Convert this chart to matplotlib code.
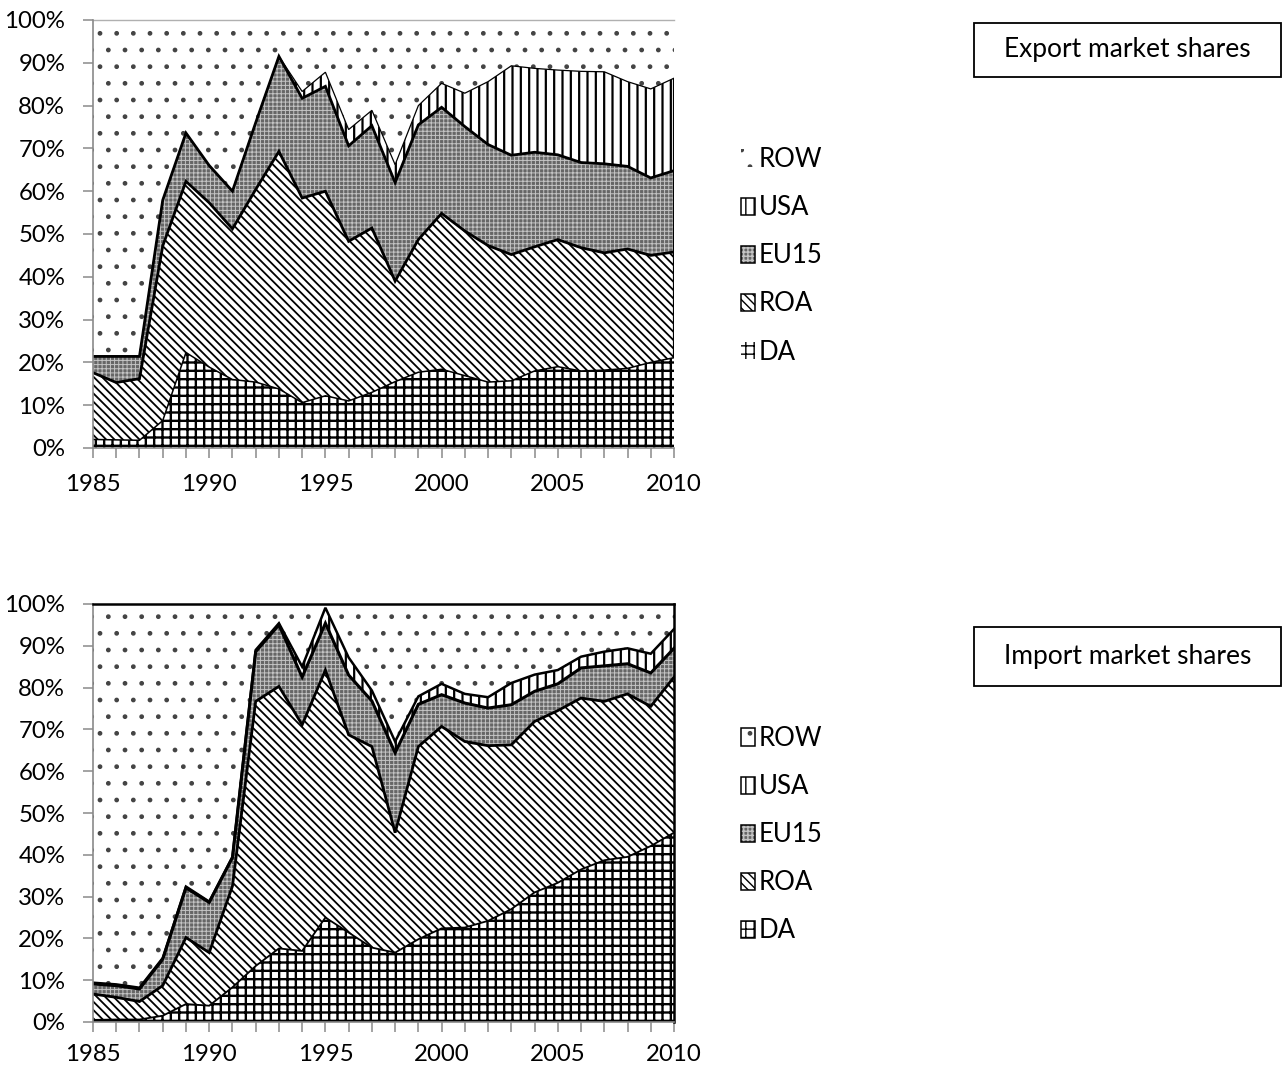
import numpy as np
import matplotlib
matplotlib.use("Agg")
import matplotlib as mpl
import matplotlib.pyplot as plt
from matplotlib.patches import Patch, Rectangle

plt.rcParams['font.family'] = ['Lato', 'DejaVu Sans']

# ---------------- data (shares in %) ----------------
years = list(range(1985, 2011))
series = ['DA', 'ROA', 'EU15', 'USA', 'ROW']

exp_DA = [2.0, 1.9, 1.8, 6.4, 22.3, 18.9, 16.0, 15.4, 13.8, 10.6, 12.2, 11.0, 13.0,
          15.5, 17.7, 18.4, 16.9, 15.4, 15.7, 18.0, 19.0, 18.0, 18.2, 18.6, 20.0, 21.1]
exp_ROA = [15.6, 13.4, 14.4, 40.8, 40.0, 38.4, 35.2, 45.0, 55.5, 47.8, 47.8, 37.3, 38.4,
           23.5, 31.0, 36.4, 33.8, 31.9, 29.5, 29.0, 29.7, 28.8, 27.4, 27.9, 25.0, 24.7]
exp_EU15 = [3.8, 6.1, 5.2, 10.7, 11.3, 8.7, 8.8, 15.6, 22.2, 23.3, 24.5, 22.3, 23.9,
            23.0, 26.8, 24.8, 24.4, 23.6, 23.2, 22.1, 19.8, 19.9, 20.8, 19.3, 18.1, 19.0]
exp_USA = [0.0, 0.0, 0.0, 0.0, 0.0, 0.0, 0.0, 0.0, 0.0, 1.6, 3.3, 3.8, 3.6,
           4.2, 4.5, 5.6, 7.8, 14.7, 20.9, 19.6, 19.8, 21.3, 21.5, 19.8, 20.8, 21.6]
exp_ROW = [78.6, 78.6, 78.6, 42.1, 26.4, 34.0, 40.0, 24.0, 8.5, 16.7, 12.2, 25.6, 21.1,
           33.8, 20.0, 14.8, 17.1, 14.4, 10.7, 11.3, 11.7, 12.0, 12.1, 14.4, 16.1, 13.6]

imp_DA = [0.5, 0.6, 0.6, 1.5, 4.3, 3.9, 8.3, 13.4, 17.6, 17.0, 25.0, 21.4, 17.8,
          16.6, 19.8, 22.4, 22.6, 24.2, 27.0, 31.0, 33.3, 36.5, 38.7, 39.5, 42.1, 45.3]
imp_ROA = [6.2, 5.3, 4.3, 7.2, 15.9, 12.7, 24.2, 63.3, 62.7, 54.1, 59.2, 47.3, 48.1,
           28.7, 46.1, 48.3, 44.5, 41.9, 39.3, 40.9, 41.2, 41.0, 38.0, 39.0, 33.4, 37.2]
imp_EU15 = [2.4, 2.8, 3.0, 6.3, 11.9, 12.0, 6.8, 11.9, 14.7, 11.4, 11.2, 14.3, 10.9,
            19.1, 10.1, 7.6, 9.2, 9.0, 9.6, 7.2, 6.4, 7.2, 8.5, 7.2, 8.0, 6.9]
imp_USA = [0.3, 0.3, 0.3, 0.3, 0.3, 0.2, 0.2, 0.4, 0.4, 2.5, 3.7, 4.2, 2.5,
           2.7, 1.9, 2.6, 2.2, 2.6, 5.2, 4.0, 3.3, 2.7, 3.4, 3.7, 4.6, 4.6]
imp_ROW = [90.6, 91.0, 91.8, 84.7, 67.6, 71.2, 60.5, 11.0, 4.6, 15.0, 0.9, 12.8, 20.7,
           32.9, 22.1, 19.1, 21.5, 22.3, 18.9, 16.9, 15.8, 12.6, 11.4, 10.6, 11.9, 6.0]

titles = ['Export market shares', 'Import market shares']
x_ticks = [1985, 1990, 1995, 2000, 2005, 2010]
y_ticks = [0, 10, 20, 30, 40, 50, 60, 70, 80, 90, 100]

# ---------------- styles ----------------
STY = {
    'DA':   dict(face='white',   hc='black',   hatch='++',       hlw=1.7),
    'ROA':  dict(face='white',   hc='black',   hatch='\\\\\\\\', hlw=1.3),
    'EU15': dict(face='#666666', hc='#c4c4c4', hatch='++++',     hlw=0.7),
    'USA':  dict(face='white',   hc='black',   hatch='||',       hlw=1.6),
    'ROW':  dict(face='white',   hc='#444444', hatch='.',        hlw=1.0),
}

W, H = 1285, 1073
fig = plt.figure(figsize=(W / 100, H / 100), dpi=100)


def px_axes(x0, y0, x1, y1):
    return fig.add_axes([x0 / W, 1 - y1 / H, (x1 - x0) / W, (y1 - y0) / H])


def draw(ax, data, lws, boxed, xpad):
    x = np.array(years)
    cum = np.cumsum(np.array(data, dtype=float), axis=0) / 100.0
    lower = np.zeros(len(x))
    for i, name in enumerate(series):
        s = STY[name]
        upper = cum[i]
        with mpl.rc_context({'hatch.linewidth': s['hlw']}):
            ax.fill_between(x, lower, upper, facecolor=s['face'], edgecolor=s['hc'],
                            hatch=s['hatch'], linewidth=0, zorder=1)
        lower = upper
    for i in range(4):
        if lws[i] > 0:
            ax.plot(x, cum[i], color='black', lw=lws[i], zorder=3,
                    solid_joinstyle='miter')
    if not boxed:
        ax.vlines(x[-1], cum[0][-1], cum[3][-1], color='black', lw=1.6, zorder=3)

    ax.set_xlim(1985, 2010)
    ax.set_ylim(0, 1)
    ax.set_xticks(x_ticks)
    ax.set_xticks(years, minor=True)
    ax.set_xticklabels([str(v) for v in x_ticks])
    ax.set_yticks([v / 100 for v in y_ticks])
    ax.set_yticklabels([f'{v}%' for v in y_ticks])
    ax.tick_params(axis='both', which='both', direction='out', length=7, width=1.1,
                   color='#8a8a8a', labelsize=17.3, labelcolor='black')
    ax.tick_params(axis='y', pad=13)
    ax.tick_params(axis='x', pad=xpad)
    for sp in ('left', 'bottom'):
        ax.spines[sp].set_color('#8a8a8a')
        ax.spines[sp].set_linewidth(1.2)
        ax.spines[sp].set_zorder(4)
    if boxed:
        for sp in ('top', 'right'):
            ax.spines[sp].set_color('black')
            ax.spines[sp].set_linewidth(1.8)
            ax.spines[sp].set_zorder(4)
    else:
        ax.spines['top'].set_color('#b0b0b0')
        ax.spines['top'].set_linewidth(1.0)
        ax.spines['right'].set_visible(False)


ax_top = px_axes(93, 20, 674, 448)
ax_bot = px_axes(93, 604, 674, 1022)

draw(ax_top, [exp_DA, exp_ROA, exp_EU15, exp_USA, exp_ROW], [1.1, 2.0, 2.0, 0.9],
     boxed=False, xpad=12)
draw(ax_bot, [imp_DA, imp_ROA, imp_EU15, imp_USA, imp_ROW], [1.3, 2.0, 2.2, 1.8],
     boxed=True, xpad=9)


def legend(y_top_px, top_chart):
    handles = []
    for name in reversed(series):
        s = STY[name]
        no_border = top_chart and name in ('ROW', 'DA')
        with mpl.rc_context({'hatch.linewidth': s['hlw']}):
            fillp = Patch(facecolor=s['face'], edgecolor=s['hc'], hatch=s['hatch'],
                          linewidth=0)
        if no_border:
            h = fillp
        else:
            h = (fillp, Patch(fill=False, edgecolor='black', linewidth=1.1))
        handles.append(h)
    fig.legend(handles=handles, labels=list(reversed(series)), loc='upper left',
               bbox_to_anchor=(741 / W, 1 - y_top_px / H),
               frameon=False, fontsize=18.5, handlelength=0.55, handleheight=0.65,
               handletextpad=0.15, labelspacing=0.90, borderpad=0, borderaxespad=0)


legend(147, True)
legend(726, False)

# title boxes
for (y0, y1), t in zip([(23, 77), (627, 686)], titles):
    fig.patches.append(Rectangle((974 / W, 1 - y1 / H), (1281 - 974) / W, (y1 - y0) / H,
                                 transform=fig.transFigure, fill=False,
                                 edgecolor='black', linewidth=1.3))
    fig.text(1127.5 / W, 1 - (y0 + y1) / 2 / H, t, ha='center', va='center', fontsize=19)

fig.savefig('out.png', dpi=100)
